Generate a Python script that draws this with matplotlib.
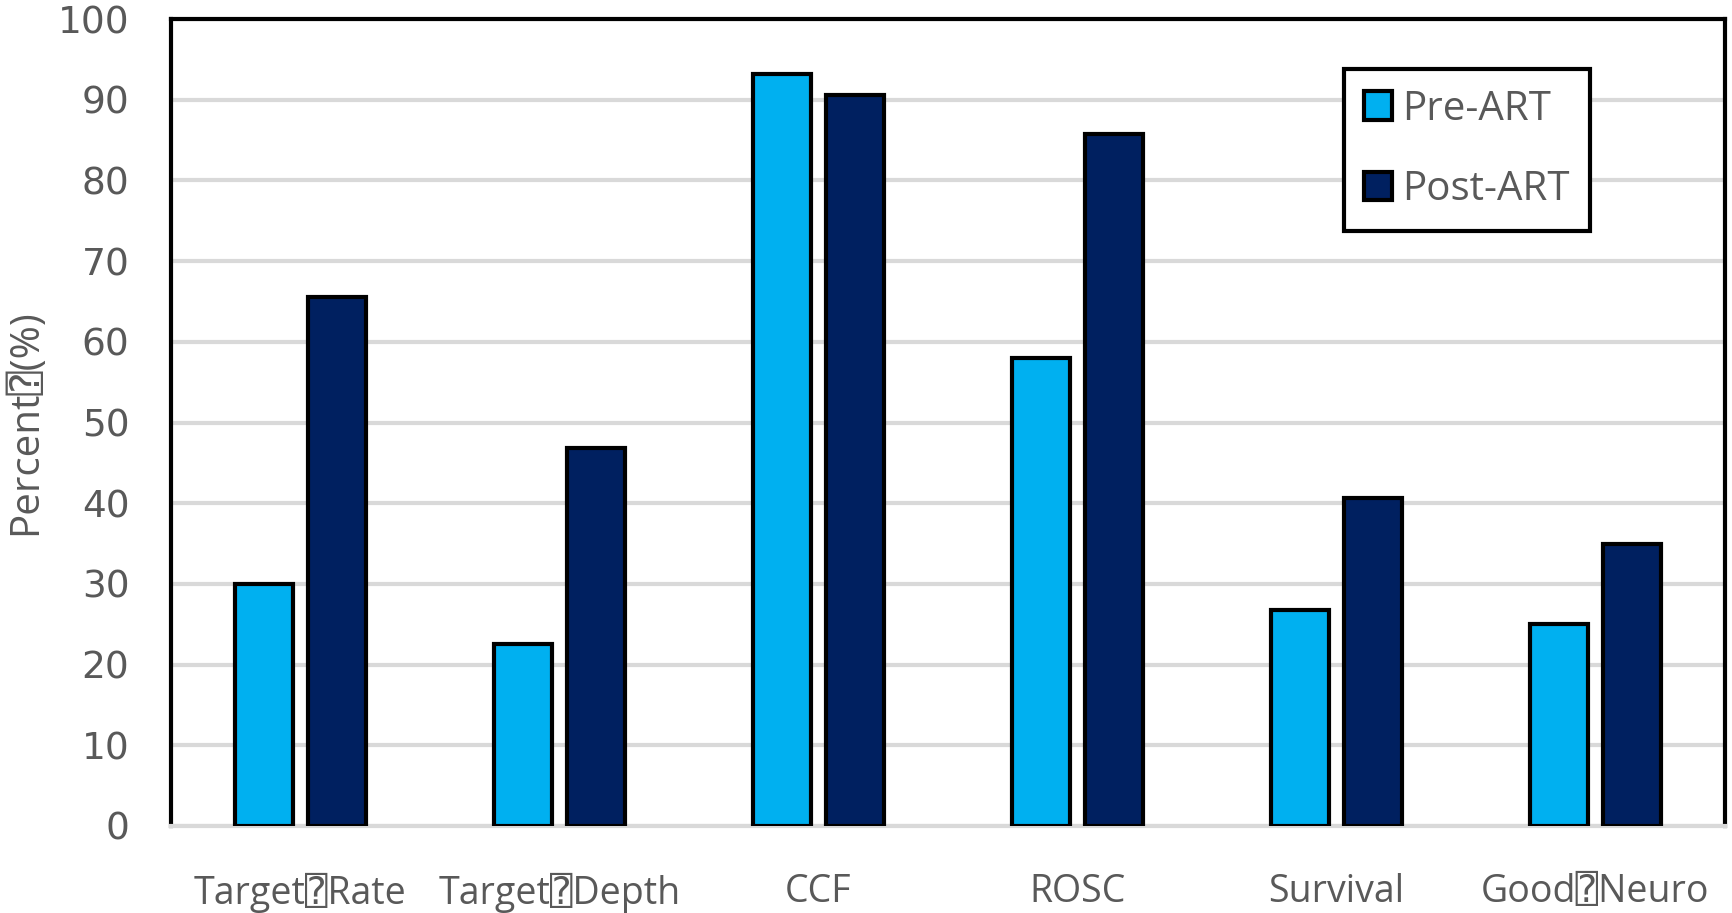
import numpy as np
import matplotlib.pyplot as plt
from matplotlib.patches import Patch

categories = ["Target\u2370Rate", "Target\u2370Depth", "CCF", "ROSC", "Survival", "Good\u2370Neuro"]
pre_art = [30, 22.5, 93.2, 58, 26.8, 25]
post_art = [65.6, 46.9, 90.6, 85.7, 40.6, 35]
yticks = np.arange(0, 101, 10)

fonts = ['Open Sans', 'DejaVu Sans Mono', 'DejaVu Sans']
plt.rcParams['font.family'] = fonts
text_col = '#595959'
pre_col = '#00b0f0'
post_col = '#002060'

fig = plt.figure(figsize=(17.32, 9.13), dpi=100)
ax = fig.add_axes([171 / 1732, 1 - 826 / 913, (1725 - 171) / 1732, (826 - 19) / 913])

x = np.arange(len(categories))
w = 0.225
ax.bar(x - 0.142, pre_art, w, color=pre_col, edgecolor='black', linewidth=3, zorder=3)
ax.bar(x + 0.142, post_art, w, color=post_col, edgecolor='black', linewidth=3, zorder=3)

ax.set_xlim(-0.5, len(categories) - 0.5)
ax.set_ylim(0, 100)
ax.set_yticks(yticks)
ax.set_yticklabels([str(v) for v in yticks], family='DejaVu Sans', fontsize=27)
ax.set_xticks(x)
ax.set_xticklabels(categories, fontsize=27)
ax.tick_params(axis='both', length=0, colors=text_col)
ax.tick_params(axis='x', pad=34)
ax.tick_params(axis='y', pad=30)
ax.yaxis.grid(True, color='#d9d9d9', linewidth=3, zorder=0)
ax.set_axisbelow(True)

for side in ['left', 'top', 'right']:
    ax.spines[side].set_color('black')
    ax.spines[side].set_linewidth(3)
ax.spines['bottom'].set_color('#d9d9d9')
ax.spines['bottom'].set_linewidth(3)

ax.set_ylabel("Percent\u2370(%)", fontsize=29, color=text_col, labelpad=8)

handles = [Patch(facecolor=pre_col, edgecolor='black', linewidth=3, label='Pre-ART'),
           Patch(facecolor=post_col, edgecolor='black', linewidth=3, label='Post-ART')]
leg = ax.legend(handles=handles, loc='upper right', bbox_to_anchor=(0.913, 0.938),
                borderaxespad=0, fontsize=29, frameon=True, framealpha=1,
                fancybox=False, edgecolor='black',
                handlelength=0.7, handleheight=0.7, handletextpad=0.25,
                labelspacing=1.0, borderpad=0.5, labelcolor=text_col)
leg.get_frame().set_linewidth(3)

fig.savefig('out.png', dpi=100)
